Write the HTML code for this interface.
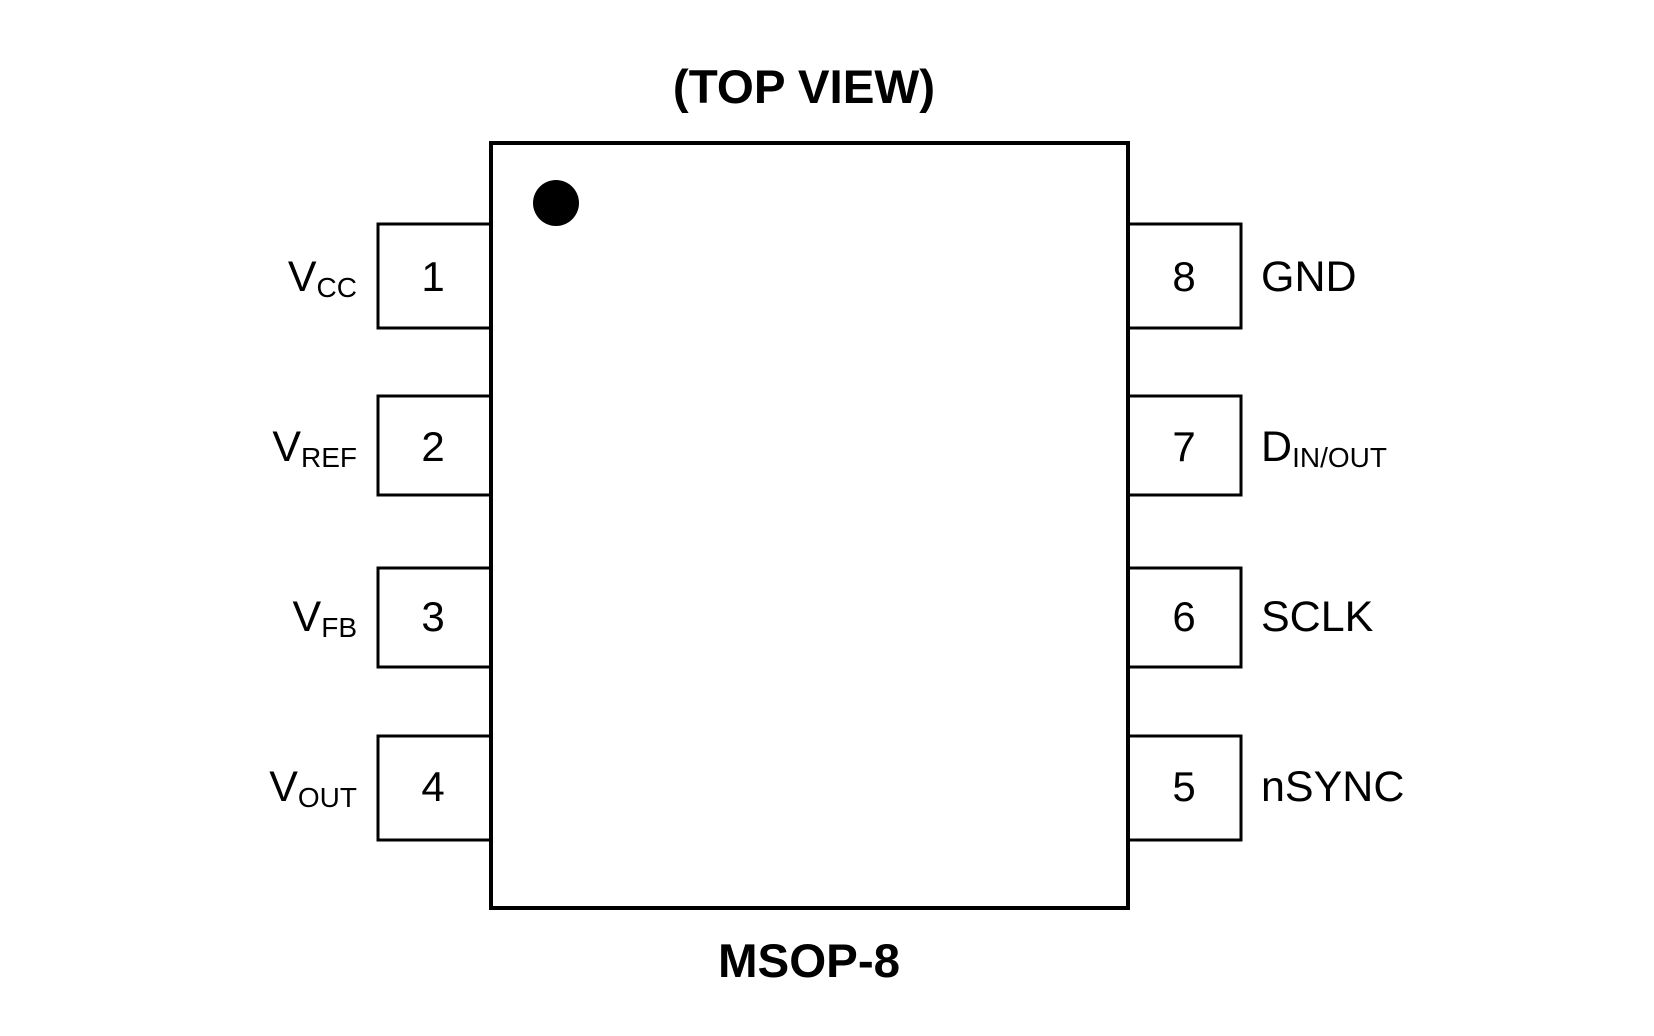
<!DOCTYPE html>
<html><head><style>html,body{margin:0;padding:0;background:#fff}svg{display:block}</style></head>
<body>
<svg width="1654" height="1036" viewBox="0 0 1654 1036" xmlns="http://www.w3.org/2000/svg" font-family="Liberation Sans, Arial, sans-serif">
<rect width="1654" height="1036" fill="#fff"/>
<g fill="none" stroke="#000" stroke-width="3">
<rect x="378" y="224" width="113" height="104"/>
<rect x="378" y="396" width="113" height="99"/>
<rect x="378" y="568" width="113" height="99"/>
<rect x="378" y="736" width="113" height="104"/>
<rect x="1128" y="224" width="113" height="104"/>
<rect x="1128" y="396" width="113" height="99"/>
<rect x="1128" y="568" width="113" height="99"/>
<rect x="1128" y="736" width="113" height="104"/>
</g>
<rect x="491" y="143" width="637" height="765" fill="#fff" stroke="#000" stroke-width="4"/>
<circle cx="556" cy="203" r="23" fill="#000"/>
<text x="804" y="103" font-size="47.5" font-weight="bold" text-anchor="middle">(TOP VIEW)</text>
<text x="809" y="977" font-size="47.5" font-weight="bold" text-anchor="middle">MSOP-8</text>
<g font-size="42" text-anchor="middle">
<text x="433" y="291">1</text><text x="433" y="461">2</text><text x="433" y="631">3</text><text x="433" y="801">4</text>
<text x="1184" y="291">8</text><text x="1184" y="461">7</text><text x="1184" y="631">6</text><text x="1184" y="801">5</text>
</g>
<g font-size="43" text-anchor="end">
<text x="357" y="291">V<tspan font-size="28" dy="6">CC</tspan></text>
<text x="357" y="461">V<tspan font-size="28" dy="6">REF</tspan></text>
<text x="357" y="631">V<tspan font-size="28" dy="6">FB</tspan></text>
<text x="357" y="801">V<tspan font-size="28" dy="6">OUT</tspan></text>
</g>
<g font-size="43">
<text x="1261" y="291">GND</text>
<text x="1261" y="461">D<tspan font-size="28" dy="6">IN/OUT</tspan></text>
<text x="1261" y="631">SCLK</text>
<text x="1261" y="801">nSYNC</text>
</g>
</svg>
</body></html>
